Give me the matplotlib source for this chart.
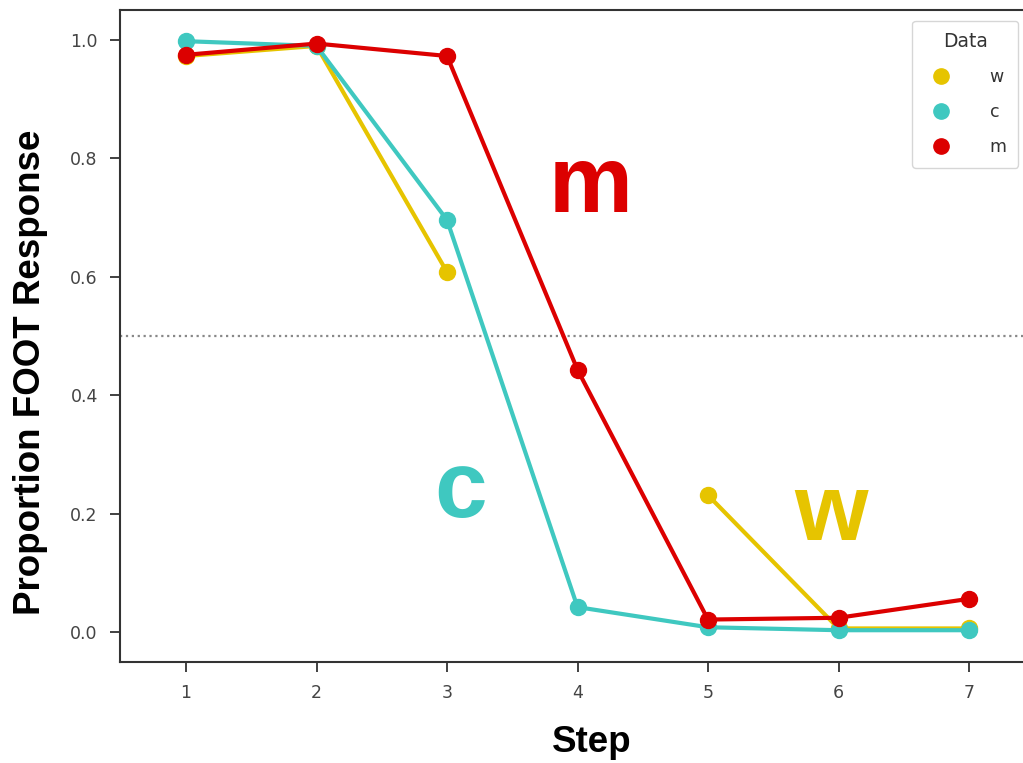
import numpy as np
import matplotlib
matplotlib.use("Agg")
import matplotlib.pyplot as plt
from matplotlib.lines import Line2D

# Continuum steps and proportion of FOOT responses per condition
steps = [1, 2, 3, 4, 5, 6, 7]
w_vals = [0.973, 0.990, 0.608, np.nan, 0.231, 0.006, 0.006]
c_vals = [0.998, 0.990, 0.696, 0.042, 0.008, 0.003, 0.003]
m_vals = [0.975, 0.994, 0.973, 0.443, 0.021, 0.024, 0.056]
series_names = ["w", "c", "m"]
series_colors = ["#E6C400", "#3FC8C0", "#DC0000"]
y_ticks = [0.0, 0.2, 0.4, 0.6, 0.8, 1.0]

fig = plt.figure(figsize=(10.23, 7.63), dpi=100)
W, H = 1023, 763
ax = fig.add_axes([120 / W, 1 - 662 / H, (1064 - 120) / W, (662 - 10) / H])

for vals, col in zip([w_vals, c_vals, m_vals], series_colors):
    ax.plot(steps, vals, color=col, lw=3.0, marker="o", ms=11.5,
            solid_capstyle="round", zorder=3)

ax.axhline(0.5, color="#888888", ls=":", lw=1.6, zorder=1)

ax.set_xlim(0.494, 7.728)
ax.set_ylim(-0.0507, 1.0507)
ax.set_xticks(steps)
ax.set_yticks(y_ticks)
ax.set_yticklabels([f"{t:.1f}" for t in y_ticks])

for side in ["right", "top"]:
    ax.spines[side].set_visible(False)
for side in ["left", "bottom"]:
    ax.spines[side].set_linewidth(1.5)
    ax.spines[side].set_color("#333333")
# top border line of the frame
ax.plot([0, 1], [1, 1], transform=ax.transAxes, color="#333333", lw=1.5,
        clip_on=False)

ax.tick_params(axis="both", length=7, width=1.3, color="#333333",
               labelsize=12.5, labelcolor="#444444")
ax.tick_params(axis="y", pad=9)
ax.tick_params(axis="x", pad=9)

label_font = dict(family="Liberation Sans", weight="bold", size=26.5)
fig.text(592 / W, 1 - 743 / H, "Step", ha="center", va="center", **label_font)
fig.text(31 / W, 1 - 372 / H, "Proportion FOOT Response", rotation=90,
         ha="center", va="center", **label_font)

big_font = dict(family="Liberation Sans", weight="bold", size=68)
fig.text(591 / W, 1 - 187 / H, "m", color=series_colors[2], ha="center",
         va="center", **big_font)
fig.text(461 / W, 1 - 492 / H, "c", color=series_colors[1], ha="center",
         va="center", **big_font)
fig.text(831 / W, 1 - 516 / H, "w", color=series_colors[0], ha="center",
         va="center", **big_font)

handles = [Line2D([], [], ls="none", marker="o", ms=11, color=c)
           for c in series_colors]
leg = fig.legend(handles, series_names, title="Data", loc="upper right",
                 bbox_to_anchor=(1018 / W, 1 - 21 / H), fontsize=12.5,
                 title_fontsize=13.5, frameon=True, fancybox=True,
                 borderpad=0.65, labelspacing=0.98, handletextpad=1.8,
                 borderaxespad=0)
leg.get_frame().set_edgecolor("#cccccc")
leg.get_frame().set_linewidth(1.0)
for t in leg.get_texts():
    t.set_color("#333333")
leg.get_title().set_color("#333333")

fig.savefig("out.png", dpi=100)
